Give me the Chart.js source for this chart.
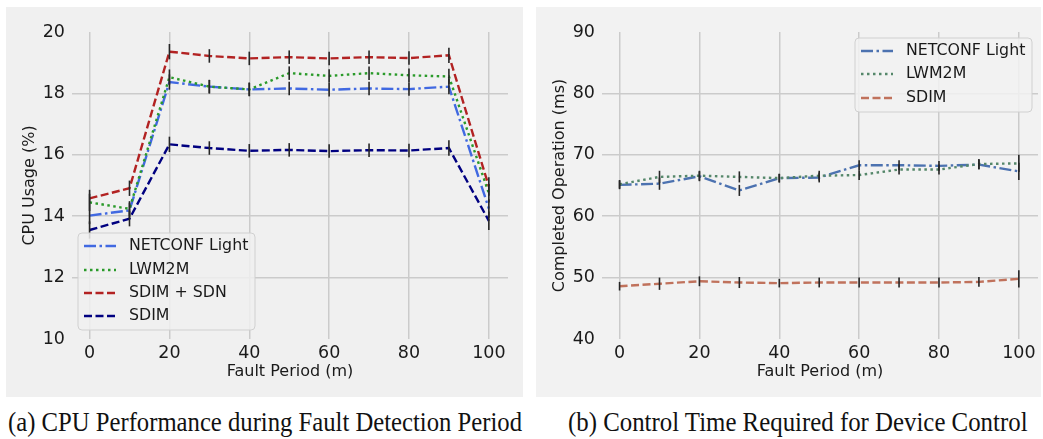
<!DOCTYPE html>
<html>
<head>
<meta charset="utf-8">
<script src="https://cdn.jsdelivr.net/npm/chart.js@4.4.0/dist/chart.umd.min.js"></script>
<style>
  body { margin: 0; width: 1043px; height: 439px; background: #fff; position: relative; overflow: hidden; }
  .panel { position: absolute; top: 7px; height: 390px; }
  #leftPanel { left: 6px; width: 517px; background: #f0f0f0; }
  #rightPanel { left: 536px; width: 505px; background: #f2f2f2; }
  .caption { position: absolute; top: 407px; font-family: "Liberation Serif", serif; font-size: 27px; line-height: 31px; white-space: nowrap; transform-origin: left center; color: #111; }
</style>
</head>
<body>
<div class="panel" id="leftPanel"><canvas id="cpuChart" width="517" height="390"></canvas></div>
<div class="panel" id="rightPanel"><canvas id="timeChart" width="505" height="390"></canvas></div>
<div class="caption" id="capA" data-left="8" data-right="522">(a) CPU Performance during Fault Detection Period</div>
<div class="caption" id="capB" data-left="568" data-right="1028">(b) Control Time Required for Device Control</div>
<script>
const faultPeriods = [0, 10, 20, 30, 40, 50, 60, 70, 80, 90, 100];
const xTicks = [0, 20, 40, 60, 80, 100];

// (a) CPU usage (%)
const cpuTicks = [10, 12, 14, 16, 18, 20];
const cpuNetconf = [14.02, 14.19, 18.37, 18.22, 18.13, 18.16, 18.12, 18.16, 18.14, 18.22, 14.25];
const cpuLwm2m = [14.45, 14.24, 18.53, 18.22, 18.13, 18.66, 18.57, 18.66, 18.59, 18.55, 14.75];
const cpuSdimSdn = [14.58, 14.91, 19.36, 19.22, 19.14, 19.18, 19.14, 19.18, 19.15, 19.24, 14.97];
const cpuSdim = [13.55, 13.92, 16.34, 16.22, 16.13, 16.16, 16.12, 16.15, 16.14, 16.22, 13.85];
const cpuErr = [0.28, 0.25, 0.25, 0.22, 0.22, 0.22, 0.22, 0.22, 0.22, 0.25, 0.3];

// (b) completed operation time (ms)
const timeTicks = [40, 50, 60, 70, 80, 90];
const timeNetconf = [65.1, 65.3, 66.5, 64.2, 66.2, 66.3, 68.3, 68.3, 68.2, 68.4, 67.3];
const timeLwm2m = [65.2, 66.4, 66.6, 66.4, 66.2, 66.6, 66.7, 67.6, 67.6, 68.5, 68.6];
const timeSdim = [48.6, 49.0, 49.4, 49.2, 49.1, 49.2, 49.2, 49.2, 49.2, 49.3, 49.8];
const timeErr = [0.7, 1.0, 0.8, 0.9, 0.7, 0.8, 0.8, 0.8, 0.8, 0.8, 1.4];

const DASH_DOT = [12, 3.5, 2.5, 3.5];
const DOTTED = [2.5, 3.5];
const DASHED = [8, 3.5];
const FONT = "'DejaVu Sans', sans-serif";

function series(label, data, err, color, dash, order) {
  return {
    label, err, dash,
    data: faultPeriods.map((x, i) => ({ x, y: data[i] })),
    borderColor: color,
    borderWidth: 2.4,
    borderDash: dash,
    pointRadius: 0,
    fill: false,
    tension: 0,
    order
  };
}

const errorBars = {
  id: 'errorBars',
  afterDatasetsDraw(chart) {
    const { ctx, scales } = chart;
    ctx.save();
    ctx.strokeStyle = '#262626';
    ctx.lineWidth = 1.6;
    ctx.setLineDash([]);
    chart.data.datasets.forEach(ds => {
      ds.data.forEach((p, i) => {
        const x = scales.x.getPixelForValue(p.x);
        ctx.beginPath();
        ctx.moveTo(x, scales.y.getPixelForValue(p.y - ds.err[i]));
        ctx.lineTo(x, scales.y.getPixelForValue(p.y + ds.err[i]));
        ctx.stroke();
      });
    });
    ctx.restore();
  }
};

function decorations(yTitle, legendBox, rowYs, bg) {
  return {
    id: 'decorations',
    afterDraw(chart) {
      const { ctx, chartArea } = chart;
      ctx.save();
      ctx.fillStyle = '#1a1a1a';
      ctx.font = '16px ' + FONT;
      ctx.textAlign = 'center';
      ctx.textBaseline = 'middle';
      ctx.fillText('Fault Period (m)', (chartArea.left + chartArea.right) / 2, 365);
      ctx.translate(24, (chartArea.top + chartArea.bottom) / 2);
      ctx.rotate(-Math.PI / 2);
      ctx.fillText(yTitle, 0, 0);
      ctx.restore();

      // legend
      const b = legendBox;
      ctx.save();
      ctx.globalAlpha = 0.85;
      ctx.fillStyle = bg;
      ctx.beginPath();
      ctx.roundRect(b.x, b.y, b.w, b.h, 4);
      ctx.fill();
      ctx.globalAlpha = 1;
      ctx.strokeStyle = '#d0d0d0';
      ctx.lineWidth = 1;
      ctx.stroke();
      chart.data.datasets.forEach((ds, i) => {
        const y = rowYs[i];
        ctx.strokeStyle = ds.borderColor;
        ctx.lineWidth = 2.4;
        ctx.setLineDash(ds.dash);
        ctx.beginPath();
        ctx.moveTo(b.x + 6, y);
        ctx.lineTo(b.x + 38, y);
        ctx.stroke();
        ctx.setLineDash([]);
        ctx.fillStyle = '#1a1a1a';
        ctx.font = '15.8px ' + FONT;
        ctx.textAlign = 'left';
        ctx.textBaseline = 'middle';
        ctx.fillText(ds.label, b.x + 51, y);
      });
      ctx.restore();
    }
  };
}

function makeChart(id, datasets, yTicks, rightPad, yTitle, legendBox, rowYs, bg) {
  const gridColor = '#cbcbcb';
  return new Chart(document.getElementById(id), {
    type: 'line',
    data: { datasets },
    options: {
      responsive: false,
      animation: false,
      devicePixelRatio: 1,
      layout: { padding: { top: 25, right: rightPad, left: 0, bottom: 0 } },
      plugins: { legend: { display: false }, tooltip: { enabled: false } },
      scales: {
        x: {
          type: 'linear',
          min: -4.4,
          max: 104.8,
          afterBuildTicks: s => { s.ticks = xTicks.map(v => ({ value: v })); },
          afterFit: s => { s.height = 58; },
          border: { display: false },
          grid: { color: gridColor, lineWidth: 1.5, drawTicks: false },
          ticks: { padding: 4, color: '#1a1a1a', font: { family: FONT, size: 17.5 }, maxRotation: 0 }
        },
        y: {
          min: yTicks[0],
          max: yTicks[yTicks.length - 1],
          afterBuildTicks: s => { s.ticks = yTicks.map(v => ({ value: v })); },
          afterFit: s => { s.width = 66; },
          border: { display: false },
          grid: {
            color: c => (c.tick && (c.tick.value === yTicks[0] || c.tick.value === yTicks[yTicks.length - 1])) ? 'rgba(0,0,0,0)' : gridColor,
            lineWidth: 1.5,
            drawTicks: false
          },
          ticks: { padding: 7, color: '#1a1a1a', font: { family: FONT, size: 17.5 } }
        }
      }
    },
    plugins: [errorBars, decorations(yTitle, legendBox, rowYs, bg)]
  });
}

makeChart('cpuChart', [
  series('NETCONF Light', cpuNetconf, cpuErr, '#4169e1', DASH_DOT, 4),
  series('LWM2M', cpuLwm2m, cpuErr, '#2a9a2a', DOTTED, 3),
  series('SDIM + SDN', cpuSdimSdn, cpuErr, '#b22222', DASHED, 2),
  series('SDIM', cpuSdim, cpuErr, '#000080', DASHED, 1)
], cpuTicks, 15, 'CPU Usage (%)', { x: 72, y: 226, w: 177, h: 97 }, [239, 263, 286, 309], '#f0f0f0');

makeChart('timeChart', [
  series('NETCONF Light', timeNetconf, timeErr, '#4c72b0', DASH_DOT, 3),
  series('LWM2M', timeLwm2m, timeErr, '#55876a', DOTTED, 2),
  series('SDIM', timeSdim, timeErr, '#c0725c', DASHED, 1)
], timeTicks, 3, 'Completed Operation (ms)', { x: 319, y: 31, w: 177, h: 74 }, [44, 67, 91], '#f2f2f2');

// fit the captions to their measured extent
const mctx = document.createElement('canvas').getContext('2d');
document.querySelectorAll('.caption').forEach(el => {
  mctx.font = '27px "Liberation Serif"';
  const w = mctx.measureText(el.textContent).width;
  const left = +el.dataset.left, right = +el.dataset.right;
  el.style.left = left + 'px';
  el.style.transform = 'scaleX(' + ((right - left) / w).toFixed(4) + ')';
});
</script>
</body>
</html>
